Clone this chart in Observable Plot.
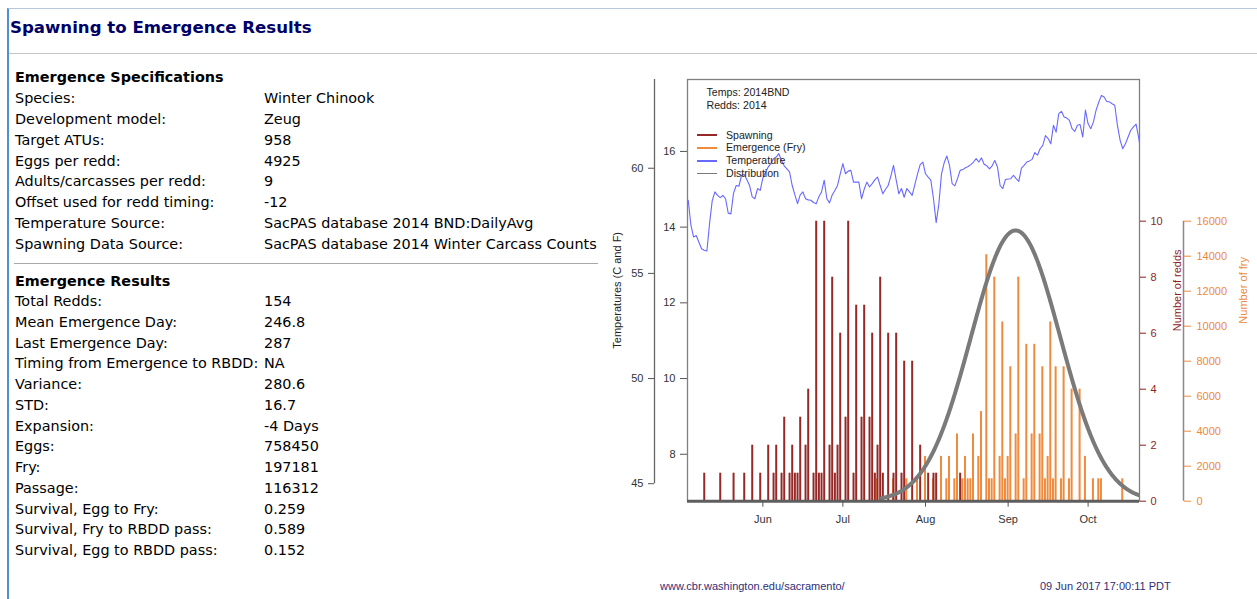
<!DOCTYPE html>
<html>
<head>
<meta charset="utf-8">
<script src="https://cdn.jsdelivr.net/npm/d3@7"></script>
<script src="https://cdn.jsdelivr.net/npm/@observablehq/plot@0.6"></script>
<style>
  html, body { margin: 0; padding: 0; background: #fff; }
  body { width: 1257px; height: 599px; overflow: hidden; position: relative;
         font-family: "DejaVu Sans", Verdana, sans-serif; color: #000; }
  #panel { position: absolute; left: 7px; top: 8px; right: 0; bottom: -2px;
           border-left: 2px solid #4f8fd6; border-top: 1px solid #b8c8dc; }
  #title { position: absolute; left: 10px; top: 18px; font-size: 16.6px; font-weight: bold;
           color: #000066; line-height: 20px; white-space: nowrap; }
  #titleRule { position: absolute; left: 9px; right: 0; top: 53px; border-top: 1px solid #c4c4c4; }
  .line { position: absolute; font-size: 14.4px; line-height: 20px; white-space: nowrap; }
  .head { font-weight: bold; }
  #secRule { position: absolute; left: 14px; width: 584px; top: 263px; border-top: 1px solid #a8a8a8; }
  #chart { position: absolute; left: 600px; top: 70px; }
  .rtxt { position: absolute; font-family: "Liberation Sans", Arial, sans-serif; white-space: nowrap; }
  .legend { font-size: 10.6px; color: #222; line-height: 12px; }
  .swatch { position: absolute; width: 20px; height: 0; }
  .footer { font-size: 11px; color: #2e2e78; line-height: 14px; }
</style>
</head>
<body>
<div id="panel"></div>
<div id="title">Spawning to Emergence Results</div>
<div id="titleRule"></div>
<div id="secRule"></div>
<div id="chart"></div>
<script>
// ---- Table contents ----
const specLabels = ["Species:", "Development model:", "Target ATUs:", "Eggs per redd:",
  "Adults/carcasses per redd:", "Offset used for redd timing:", "Temperature Source:", "Spawning Data Source:"];
const specValues = ["Winter Chinook", "Zeug", "958", "4925", "9", "-12",
  "SacPAS database 2014 BND:DailyAvg", "SacPAS database 2014 Winter Carcass Counts"];
const resultLabels = ["Total Redds:", "Mean Emergence Day:", "Last Emergence Day:",
  "Timing from Emergence to RBDD:", "Variance:", "STD:", "Expansion:", "Eggs:", "Fry:", "Passage:",
  "Survival, Egg to Fry:", "Survival, Fry to RBDD pass:", "Survival, Egg to RBDD pass:"];
const resultValues = ["154", "246.8", "287", "NA", "280.6", "16.7", "-4 Days", "758450", "197181",
  "116312", "0.259", "0.589", "0.152"];

// ---- Chart data (day of year, 2014) ----
const spawnDays = [130, 136, 141, 145, 148, 151, 154, 156, 157, 159, 160, 162, 163, 164, 165, 166,
  168, 169, 171, 172, 173, 174, 175, 177, 178, 179, 180, 181, 183, 184, 186, 187, 189, 190, 192, 193,
  194, 195, 196, 197, 199, 201, 202, 204, 205, 208, 211, 214, 216, 217, 226];
const spawnRedds = [1, 1, 1, 1, 2, 1, 2, 1, 2, 1, 3, 1, 2, 1, 1, 3,
  2, 4, 1, 10, 1, 1, 10, 2, 8, 1, 2, 6, 3, 10, 1, 7, 3, 7, 3, 6,
  1, 2, 8, 1, 6, 1, 6, 1, 5, 5, 2, 1, 1, 1, 1];

const emergeDays = [195, 201, 206, 210, 213, 216, 219, 221, 222, 224, 225, 227, 228, 229, 230, 231,
  233, 234, 236, 237, 238, 239, 241, 242, 243, 244, 245, 247, 248, 250, 251, 253, 254, 256, 257, 258,
  259, 260, 261, 262, 264, 265, 267, 268, 271, 273, 276, 278, 279, 287];
const emergeRedds = [1, 1, 1, 1, 2, 1, 2, 1, 2, 1, 3, 1, 2, 1, 1, 3,
  2, 4, 11, 1, 1, 10, 2, 8, 1, 2, 6, 3, 10, 1, 7, 3, 7, 3, 6, 1,
  2, 8, 1, 6, 1, 6, 1, 5, 5, 2, 1, 1, 1, 1];

// Daily average water temperature (C), starting on day 124
const tempStartDay = 124;
const tempC = [14.71, 14.05, 13.74, 13.78, 13.60, 13.43, 13.39, 13.37, 14.10, 14.70,
  14.93, 14.84, 14.78, 14.84, 14.75, 14.37, 14.35, 14.90, 15.10, 15.08,
  15.37, 15.39, 15.25, 15.10, 14.80, 14.75, 15.02, 14.97, 15.30, 15.45,
  15.59, 15.68, 15.81, 15.85, 15.94, 15.76, 15.62, 15.54, 15.46, 15.10,
  14.85, 14.62, 14.85, 14.93, 14.75, 14.72, 14.71, 14.65, 14.62, 14.80,
  14.93, 15.24, 14.75, 14.64, 14.85, 14.97, 15.10, 15.40, 15.68, 15.41,
  15.48, 15.50, 15.19, 15.19, 15.19, 14.75, 15.00, 15.19, 15.06, 15.15,
  15.25, 15.32, 15.10, 14.88, 15.00, 15.10, 15.35, 15.63, 15.25, 14.88,
  15.02, 14.79, 15.02, 14.93, 14.84, 15.12, 15.40, 15.65, 15.72, 15.41,
  15.32, 15.24, 14.75, 14.12, 14.60, 15.40, 15.70, 15.88, 15.63, 15.15,
  15.09, 15.28, 15.50, 15.52, 15.57, 15.60, 15.65, 15.72, 15.81, 15.72,
  15.83, 15.66, 15.62, 15.54, 15.62, 15.76, 15.59, 15.10, 15.02, 15.26,
  15.27, 15.28, 15.37, 15.28, 15.21, 15.56, 15.63, 15.72, 15.75, 15.79,
  15.97, 15.90, 16.07, 16.16, 16.42, 16.34, 16.20, 16.69, 16.51, 17.00,
  17.06, 16.91, 16.88, 16.82, 16.60, 16.53, 16.69, 16.71, 16.38, 17.09,
  16.73, 16.60, 16.78, 17.09, 17.30, 17.48, 17.44, 17.32, 17.31, 17.26,
  17.22, 16.69, 16.30, 16.07, 16.20, 16.38, 16.56, 16.65, 16.72, 16.35, 15.90];

// Peak height of the fitted emergence distribution, in fry
const distributionPeakFry = 15470;

// Axis ticks
const monthDays = [152, 182, 213, 244, 274];
const monthNames = ["Jun", "Jul", "Aug", "Sep", "Oct"];
const celsiusTicks = [8, 10, 12, 14, 16];
const fahrenheitTicks = [45, 50, 55, 60];
const reddTicks = [0, 2, 4, 6, 8, 10];
const fryTicks = [0, 2000, 4000, 6000, 8000, 10000, 12000, 14000, 16000];

// ---- Build the text table ----
function addLine(text, left, center, cls) {
  const el = document.createElement("div");
  el.className = "line" + (cls ? " " + cls : "");
  el.textContent = text;
  el.style.left = left + "px";
  el.style.top = (center - 10) + "px";
  document.body.appendChild(el);
}
addLine("Emergence Specifications", 15, 77, "head");
specLabels.forEach((t, i) => { addLine(t, 15, 98 + i * 20.86); addLine(specValues[i], 264, 98 + i * 20.86); });
addLine("Emergence Results", 15, 281, "head");
resultLabels.forEach((t, i) => { addLine(t, 15, 301 + i * 20.75); addLine(resultValues[i], 264, 301 + i * 20.75); });

// ---- Chart ----
const totalRedds = +resultValues[0];
const meanDay = +resultValues[1];
const variance = +resultValues[4];
const totalFry = +resultValues[8];
const fryPerRedd = totalFry / totalRedds;

const spawnColor = "#962828";
const fryColor = "#f08a3c";
const tempColor = "#6868ff";
const distColor = "#7a7a7a";
const reddAxisColor = "#8b1f1f";
const fryAxisColor = "#ec8a40";

// x: day of year with 4% padding around the season
const firstDay = 130, lastDay = 287;
const pad = 0.04 * (lastDay - firstDay);
const xDomain = [firstDay - pad, lastDay + pad];

// One shared vertical scale in redd units; fry and temperature are mapped onto it
const yTop = 15.06;                 // redds at the top of the plot frame
const fryPerUnit = 1600;            // 16000 fry lines up with 10 redds
const tempBottom = 6.76, tempTop = 17.9;  // C at bottom / top of the frame
const tY = c => (c - tempBottom) / (tempTop - tempBottom) * yTop;
const yT = r => tempBottom + r / yTop * (tempTop - tempBottom);

const spawning = spawnDays.map((d, i) => ({day: d, redds: spawnRedds[i]}));
const emergence = emergeDays.map((d, i) => ({day: d, fry: emergeRedds[i] * fryPerRedd}));
const temps = tempC.map((c, i) => ({day: tempStartDay + i, c}));
const sd = Math.sqrt(variance);
const curve = d3.range(meanDay - 3 * sd, meanDay + 3 * sd, 0.25)
  .map(d => ({day: d, fry: distributionPeakFry * Math.exp(-((d - meanDay) ** 2) / (2 * variance))}));

const chart = Plot.plot({
  width: 657, height: 529,
  marginLeft: 87, marginRight: 118, marginTop: 9, marginBottom: 98.3,
  x: {domain: xDomain},
  y: {domain: [0, yTop]},
  style: {fontFamily: "'Liberation Sans', Arial, sans-serif", fontSize: "11px", color: "#333",
          background: "transparent", overflow: "visible"},
  marks: [
    Plot.frame({stroke: "#808080", strokeWidth: 1.3}),
    Plot.ruleX(emergence, {x: "day", y1: 0, y2: d => d.fry / fryPerUnit, stroke: fryColor, strokeWidth: 2, dx: -0.5}),
    Plot.ruleX(spawning, {x: "day", y1: 0, y2: "redds", stroke: spawnColor, strokeWidth: 2}),
    Plot.line(temps, {x: "day", y: d => tY(d.c), stroke: tempColor, strokeWidth: 1.1, clip: true}),
    Plot.line(curve, {x: "day", y: d => d.fry / fryPerUnit, stroke: distColor, strokeWidth: 4, clip: true}),
    Plot.ruleY([0], {stroke: "#5e5e5e", strokeWidth: 3}),
    // month axis
    Plot.axisX(monthDays, {tickFormat: d => monthNames[monthDays.indexOf(d)], tickSize: 6, tickPadding: 8,
      stroke: "#555", fill: "#333", label: null}),
    // Celsius axis on the frame, Fahrenheit axis further out
    Plot.axisY(celsiusTicks.map(tY), {anchor: "left", tickSize: 7, tickPadding: 5,
      tickFormat: d => String(Math.round(yT(d))), stroke: "#555", fill: "#333", label: null}),
    Plot.axisY(fahrenheitTicks.map(f => tY((f - 32) * 5 / 9)), {anchor: "left", dx: -33, tickSize: 6, tickPadding: 5,
      tickFormat: d => String(Math.round(yT(d) * 9 / 5 + 32)), stroke: "#555", fill: "#333", label: null}),
    Plot.ruleX([xDomain[0]], {y1: tY((fahrenheitTicks[0] - 32) * 5 / 9), y2: yTop, dx: -33, stroke: "#666", strokeWidth: 1.3}),
    Plot.text(["Temperatures (C and F)"], {frameAnchor: "left", textAnchor: "middle", dx: -70, rotate: -90, fill: "#222", fontSize: 11}),
    // redd axis on the right edge, fry axis further out
    Plot.axisY(reddTicks, {anchor: "right", tickSize: 6, tickPadding: 5, stroke: reddAxisColor, fill: reddAxisColor, label: null}),
    Plot.text(["Number of redds"], {frameAnchor: "right", textAnchor: "middle", dx: 38, rotate: -90, fill: reddAxisColor, fontSize: 11}),
    Plot.ruleX([xDomain[1]], {y1: 0, y2: fryTicks[fryTicks.length - 1] / fryPerUnit, dx: 44, stroke: "#8a8a8a", strokeWidth: 1.5}),
    Plot.axisY(fryTicks.map(f => f / fryPerUnit), {anchor: "right", dx: 44, tickSize: 7, tickPadding: 6,
      tickFormat: d => String(Math.round(d * fryPerUnit)), stroke: fryAxisColor, fill: fryAxisColor, label: null}),
    Plot.text(["Number of fry"], {frameAnchor: "right", textAnchor: "middle", dx: 104, rotate: -90, fill: fryAxisColor, fontSize: 11})
  ]
});
document.getElementById("chart").appendChild(chart);

// ---- In-plot legend and footer ----
function addText(text, left, center, cls, color) {
  const el = document.createElement("div");
  el.className = "rtxt " + cls;
  el.textContent = text;
  el.style.left = left + "px";
  el.style.top = (center - 7) + "px";
  if (color) el.style.color = color;
  document.body.appendChild(el);
  return el;
}
addText("Temps: 2014BND", 706.5, 93, "legend");
addText("Redds: 2014", 706.5, 105.5, "legend");
const legendItems = [["Spawning", spawnColor, 2], ["Emergence (Fry)", fryColor, 2],
  ["Temperature", tempColor, 2], ["Distribution", distColor, 1.5]];
legendItems.forEach(([label, color, w], i) => {
  const y = 135 + i * 12.8;
  addText(label, 726, y + 0.5, "legend");
  const sw = document.createElement("div");
  sw.className = "swatch";
  sw.style.left = "696.5px";
  sw.style.top = (y - w / 2) + "px";
  sw.style.borderTop = w + "px solid " + color;
  document.body.appendChild(sw);
});
addText("www.cbr.washington.edu/sacramento/", 660, 586, "footer");
addText("09 Jun 2017 17:00:11 PDT", 1040, 586, "footer");
</script>
</body>
</html>
